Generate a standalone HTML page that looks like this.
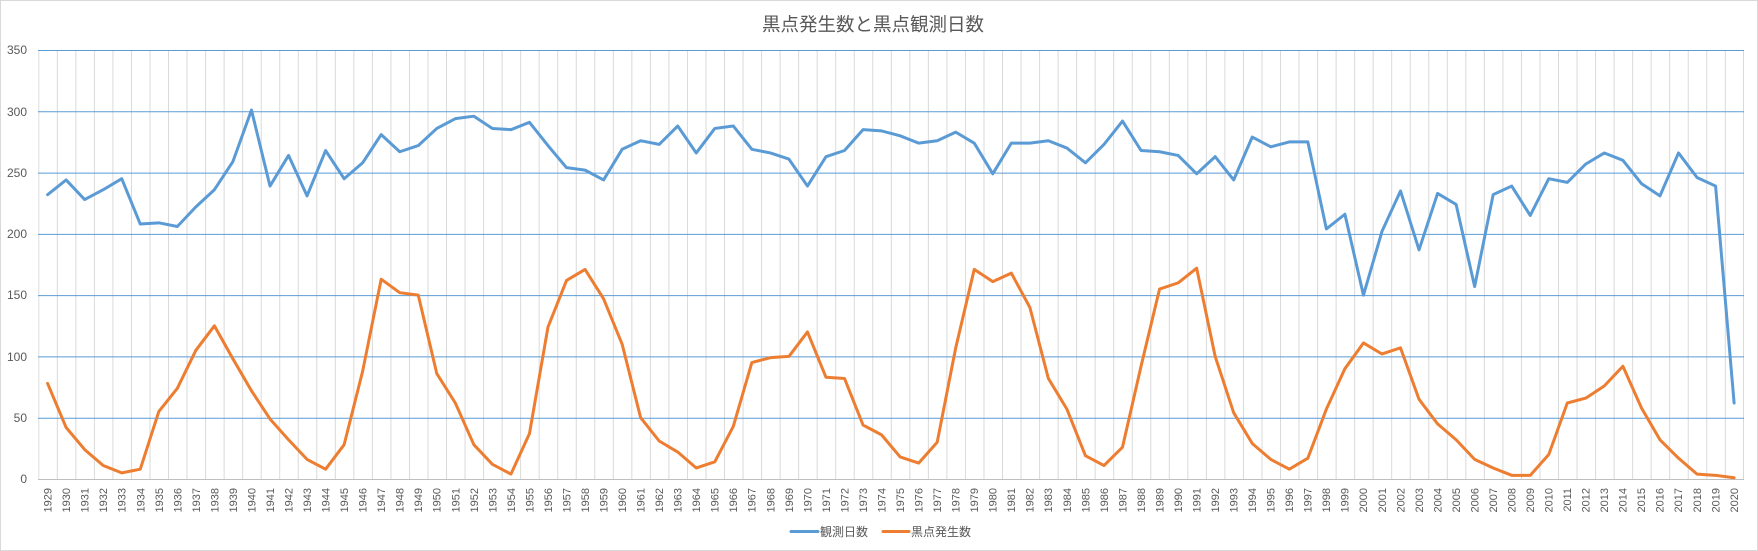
<!DOCTYPE html>
<html><head><meta charset="utf-8"><style>
html,body{margin:0;padding:0;background:#fff;}
svg{display:block;font-family:"Liberation Sans","Noto Sans CJK JP",sans-serif;}
</style></head><body>
<svg width="1758" height="551" viewBox="0 0 1758 551" xmlns="http://www.w3.org/2000/svg">
<defs>
<pattern id="vg" x="38.3" y="0" width="18.533" height="10" patternUnits="userSpaceOnUse">
<rect x="0" y="0" width="1" height="10" fill="#d9d9d9"/>
</pattern>
</defs>
<rect x="0.5" y="0.5" width="1757" height="550" fill="#fff" stroke="#d9d9d9"/>
<text x="873" y="31" text-anchor="middle" font-size="18.5" fill="#595959">黒点発生数と黒点観測日数</text>
<rect x="38.3" y="50" width="1705.5" height="429" fill="url(#vg)"/>
<rect x="1743" y="50" width="1" height="429" fill="#d9d9d9"/>
<g stroke="#5b9bd5" stroke-width="1">
<line x1="38" y1="50.5" x2="1744" y2="50.5"/>
<line x1="38" y1="111.8" x2="1744" y2="111.8"/>
<line x1="38" y1="173.1" x2="1744" y2="173.1"/>
<line x1="38" y1="234.4" x2="1744" y2="234.4"/>
<line x1="38" y1="295.6" x2="1744" y2="295.6"/>
<line x1="38" y1="356.9" x2="1744" y2="356.9"/>
<line x1="38" y1="418.2" x2="1744" y2="418.2"/>
</g>
<line x1="38" y1="479.5" x2="1744" y2="479.5" stroke="#bfbfbf" stroke-width="1"/>
<g font-size="12" fill="#595959" text-anchor="end">
<text x="27" y="54">350</text>
<text x="27" y="116">300</text>
<text x="27" y="177">250</text>
<text x="27" y="238">200</text>
<text x="27" y="299">150</text>
<text x="27" y="361">100</text>
<text x="27" y="422">50</text>
<text x="27" y="483">0</text>
</g>
<g transform="translate(47.6,479) scale(18.533,-1.2257)" fill="none" stroke-linejoin="round" stroke-linecap="round">
<polyline vector-effect="non-scaling-stroke" stroke="#5b9bd5" stroke-width="3" points="0,232 1,244 2,228 3,236 4,245 5,208 6,209 7,206 8,222 9,236 10,259 11,301 12,239 13,264 14,231 15,268 16,245 17,258 18,281 19,267 20,272 21,286 22,294 23,296 24,286 25,285 26,291 27,272 28,254 29,252 30,244 31,269 32,276 33,273 34,288 35,266 36,286 37,288 38,269 39,266 40,261 41,239 42,263 43,268 44,285 45,284 46,280 47,274 48,276 49,283 50,274 51,249 52,274 53,274 54,276 55,270 56,258 57,273 58,292 59,268 60,267 61,264 62,249 63,263 64,244 65,279 66,271 67,275 68,275 69,204 70,216 71,150 72,202 73,235 74,187 75,233 76,224 77,157 78,232 79,239 80,215 81,245 82,242 83,257 84,266 85,260 86,241 87,231 88,266 89,246 90,239 91,62"/>
<polyline vector-effect="non-scaling-stroke" stroke="#ed7d31" stroke-width="3" points="0,78 1,42 2,24 3,11 4,5 5,8 6,55 7,74 8,105 9,125 10,98 11,72 12,49 13,32 14,16 15,8 16,28 17,88 18,163 19,152 20,150 21,86 22,62 23,28 24,12 25,4 26,37 27,124 28,162 29,171 30,147 31,110 32,50 33,31 34,22 35,9 36,14 37,43 38,95 39,99 40,100 41,120 42,83 43,82 44,44 45,36 46,18 47,13 48,30 49,107 50,171 51,161 52,168 53,140 54,82 55,57 56,19 57,11 58,26 59,92 60,155 61,160 62,172 63,100 64,54 65,29 66,16 67,8 68,17 69,57 70,90 71,111 72,102 73,107 74,65 75,45 76,32 77,16 78,9 79,3 80,3 81,20 82,62 83,66 84,76 85,92 86,58 87,32 88,17 89,4 90,3 91,1"/>
</g>
<g font-size="11" fill="#595959" text-anchor="end">
<text transform="translate(51.6,488) rotate(-90)">1929</text>
<text transform="translate(70.1,488) rotate(-90)">1930</text>
<text transform="translate(88.7,488) rotate(-90)">1931</text>
<text transform="translate(107.2,488) rotate(-90)">1932</text>
<text transform="translate(125.7,488) rotate(-90)">1933</text>
<text transform="translate(144.3,488) rotate(-90)">1934</text>
<text transform="translate(162.8,488) rotate(-90)">1935</text>
<text transform="translate(181.3,488) rotate(-90)">1936</text>
<text transform="translate(199.8,488) rotate(-90)">1937</text>
<text transform="translate(218.4,488) rotate(-90)">1938</text>
<text transform="translate(236.9,488) rotate(-90)">1939</text>
<text transform="translate(255.4,488) rotate(-90)">1940</text>
<text transform="translate(274.0,488) rotate(-90)">1941</text>
<text transform="translate(292.5,488) rotate(-90)">1942</text>
<text transform="translate(311.0,488) rotate(-90)">1943</text>
<text transform="translate(329.6,488) rotate(-90)">1944</text>
<text transform="translate(348.1,488) rotate(-90)">1945</text>
<text transform="translate(366.6,488) rotate(-90)">1946</text>
<text transform="translate(385.1,488) rotate(-90)">1947</text>
<text transform="translate(403.7,488) rotate(-90)">1948</text>
<text transform="translate(422.2,488) rotate(-90)">1949</text>
<text transform="translate(440.7,488) rotate(-90)">1950</text>
<text transform="translate(459.3,488) rotate(-90)">1951</text>
<text transform="translate(477.8,488) rotate(-90)">1952</text>
<text transform="translate(496.3,488) rotate(-90)">1953</text>
<text transform="translate(514.9,488) rotate(-90)">1954</text>
<text transform="translate(533.4,488) rotate(-90)">1955</text>
<text transform="translate(551.9,488) rotate(-90)">1956</text>
<text transform="translate(570.4,488) rotate(-90)">1957</text>
<text transform="translate(589.0,488) rotate(-90)">1958</text>
<text transform="translate(607.5,488) rotate(-90)">1959</text>
<text transform="translate(626.0,488) rotate(-90)">1960</text>
<text transform="translate(644.6,488) rotate(-90)">1961</text>
<text transform="translate(663.1,488) rotate(-90)">1962</text>
<text transform="translate(681.6,488) rotate(-90)">1963</text>
<text transform="translate(700.2,488) rotate(-90)">1964</text>
<text transform="translate(718.7,488) rotate(-90)">1965</text>
<text transform="translate(737.2,488) rotate(-90)">1966</text>
<text transform="translate(755.7,488) rotate(-90)">1967</text>
<text transform="translate(774.3,488) rotate(-90)">1968</text>
<text transform="translate(792.8,488) rotate(-90)">1969</text>
<text transform="translate(811.3,488) rotate(-90)">1970</text>
<text transform="translate(829.9,488) rotate(-90)">1971</text>
<text transform="translate(848.4,488) rotate(-90)">1972</text>
<text transform="translate(866.9,488) rotate(-90)">1973</text>
<text transform="translate(885.5,488) rotate(-90)">1974</text>
<text transform="translate(904.0,488) rotate(-90)">1975</text>
<text transform="translate(922.5,488) rotate(-90)">1976</text>
<text transform="translate(941.0,488) rotate(-90)">1977</text>
<text transform="translate(959.6,488) rotate(-90)">1978</text>
<text transform="translate(978.1,488) rotate(-90)">1979</text>
<text transform="translate(996.6,488) rotate(-90)">1980</text>
<text transform="translate(1015.2,488) rotate(-90)">1981</text>
<text transform="translate(1033.7,488) rotate(-90)">1982</text>
<text transform="translate(1052.2,488) rotate(-90)">1983</text>
<text transform="translate(1070.8,488) rotate(-90)">1984</text>
<text transform="translate(1089.3,488) rotate(-90)">1985</text>
<text transform="translate(1107.8,488) rotate(-90)">1986</text>
<text transform="translate(1126.3,488) rotate(-90)">1987</text>
<text transform="translate(1144.9,488) rotate(-90)">1988</text>
<text transform="translate(1163.4,488) rotate(-90)">1989</text>
<text transform="translate(1181.9,488) rotate(-90)">1990</text>
<text transform="translate(1200.5,488) rotate(-90)">1991</text>
<text transform="translate(1219.0,488) rotate(-90)">1992</text>
<text transform="translate(1237.5,488) rotate(-90)">1993</text>
<text transform="translate(1256.1,488) rotate(-90)">1994</text>
<text transform="translate(1274.6,488) rotate(-90)">1995</text>
<text transform="translate(1293.1,488) rotate(-90)">1996</text>
<text transform="translate(1311.6,488) rotate(-90)">1997</text>
<text transform="translate(1330.2,488) rotate(-90)">1998</text>
<text transform="translate(1348.7,488) rotate(-90)">1999</text>
<text transform="translate(1367.2,488) rotate(-90)">2000</text>
<text transform="translate(1385.8,488) rotate(-90)">2001</text>
<text transform="translate(1404.3,488) rotate(-90)">2002</text>
<text transform="translate(1422.8,488) rotate(-90)">2003</text>
<text transform="translate(1441.4,488) rotate(-90)">2004</text>
<text transform="translate(1459.9,488) rotate(-90)">2005</text>
<text transform="translate(1478.4,488) rotate(-90)">2006</text>
<text transform="translate(1496.9,488) rotate(-90)">2007</text>
<text transform="translate(1515.5,488) rotate(-90)">2008</text>
<text transform="translate(1534.0,488) rotate(-90)">2009</text>
<text transform="translate(1552.5,488) rotate(-90)">2010</text>
<text transform="translate(1571.1,488) rotate(-90)">2011</text>
<text transform="translate(1589.6,488) rotate(-90)">2012</text>
<text transform="translate(1608.1,488) rotate(-90)">2013</text>
<text transform="translate(1626.7,488) rotate(-90)">2014</text>
<text transform="translate(1645.2,488) rotate(-90)">2015</text>
<text transform="translate(1663.7,488) rotate(-90)">2016</text>
<text transform="translate(1682.2,488) rotate(-90)">2017</text>
<text transform="translate(1700.8,488) rotate(-90)">2018</text>
<text transform="translate(1719.3,488) rotate(-90)">2019</text>
<text transform="translate(1737.8,488) rotate(-90)">2020</text>
</g>
<line x1="791" y1="531.5" x2="818" y2="531.5" stroke="#5b9bd5" stroke-width="3" stroke-linecap="round"/>
<text x="820" y="536" font-size="12" fill="#595959">観測日数</text>
<line x1="883" y1="531.5" x2="909" y2="531.5" stroke="#ed7d31" stroke-width="3" stroke-linecap="round"/>
<text x="911" y="536" font-size="12" fill="#595959">黒点発生数</text>
</svg>
</body></html>
